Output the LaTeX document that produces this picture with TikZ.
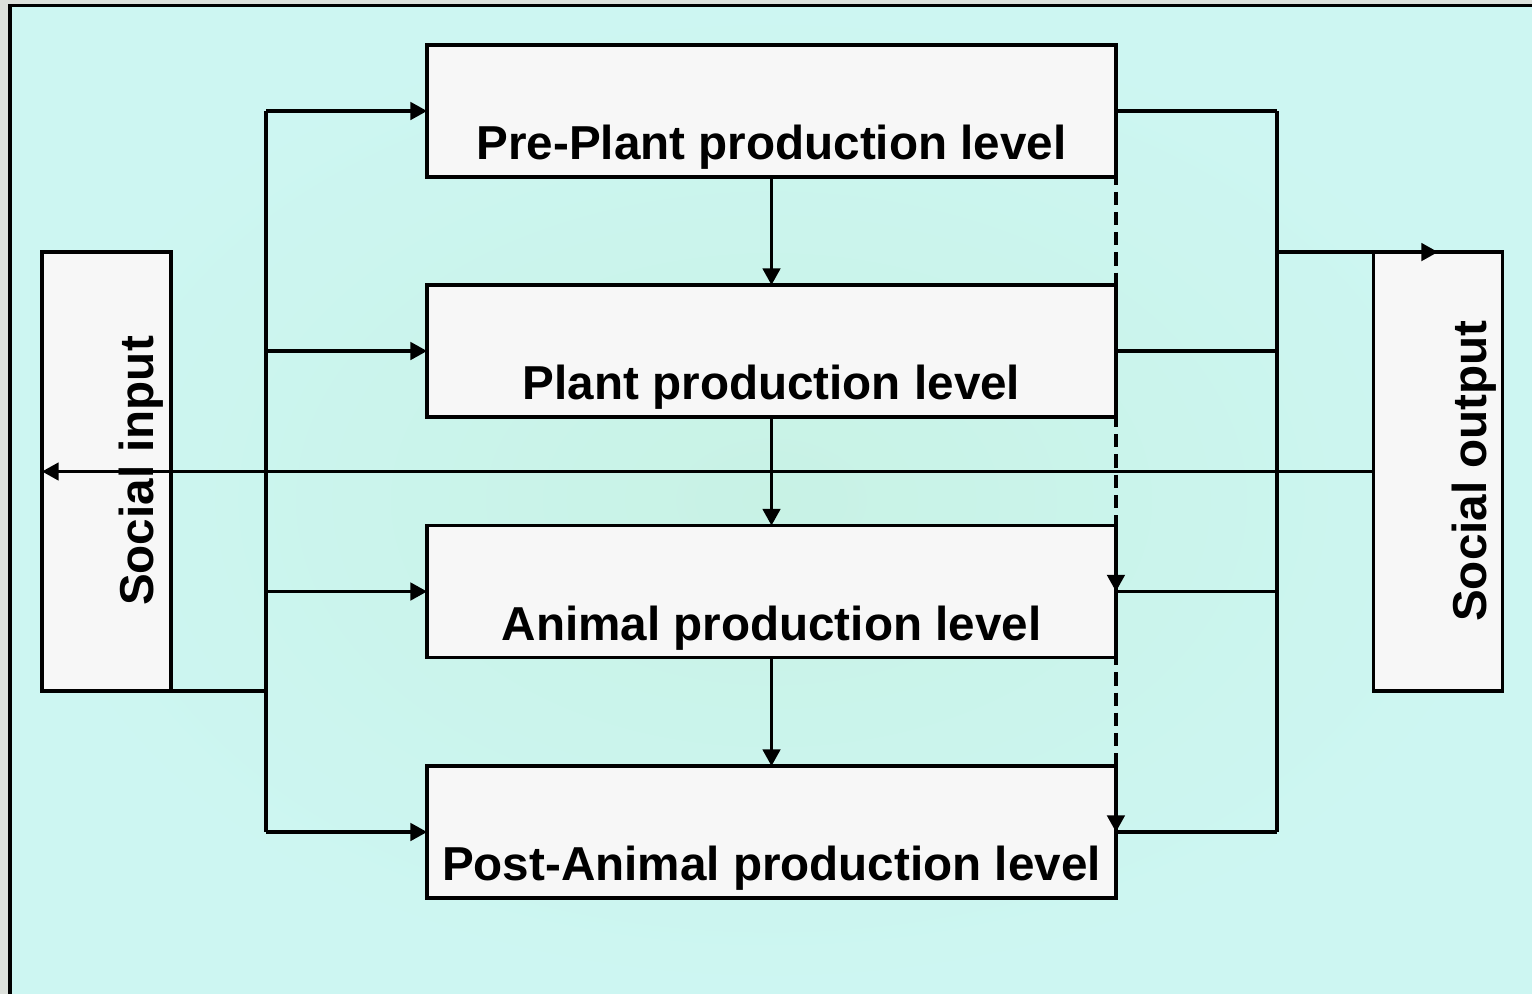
\documentclass[tikz,border=0pt]{standalone}
\usepackage{fontspec}
\setmainfont{Liberation Sans}
\usetikzlibrary{arrows.meta}
\definecolor{edgegray}{HTML}{DCE0DB}
\definecolor{bgout}{HTML}{CDF6F2}
\definecolor{bgin}{HTML}{C8F2E5}
\definecolor{boxfill}{HTML}{F7F7F7}
\begin{document}
\begin{tikzpicture}[x=0.02cm,y=-0.02cm,
  levelbox/.style={draw=black,line width=1.8pt,fill=boxfill,minimum width=13.78cm,minimum height=2.64cm,inner sep=0pt,outer sep=0pt},
  sidebox/.style={draw=black,line width=1.8pt,fill=boxfill,minimum width=2.58cm,minimum height=8.78cm,inner sep=0pt,outer sep=0pt},
  lvltext/.style={font=\fontsize{27.1}{32}\selectfont\bfseries,anchor=base,inner sep=0pt},
  sidetext/.style={font=\fontsize{27.1}{32}\selectfont\bfseries,anchor=base,inner sep=0pt,rotate=90},
  conn/.style={line width=1.8pt,draw=black},
  arr/.style={conn,-{Triangle[length=9.5pt,width=10pt]}},
  dsh/.style={dash pattern=on 7.5pt off 4pt}]
\useasboundingbox (0,0) rectangle (1532,994);
% background
\fill[edgegray] (0,0) rectangle (1532,994);
\shade[inner color=bgin,outer color=bgout] (10,5.5) rectangle (1532,994);
\draw[line width=1.9pt] (10,994) -- (10,5.5) -- (1532,5.5);
% boxes
\node[levelbox] (pre)   at (771.5,111) {};
\node[levelbox] (plant) at (771.5,351) {};
\node[levelbox] (anim)  at (771.5,591.5) {};
\node[levelbox] (post)  at (771.5,832) {};
\node[sidebox] (si) at (106.5,471.5) {};
\node[sidebox] (so) at (1438,471.5) {};
% texts
\node[lvltext] (tpre)   at (771.5,159) {Pre-Plant production level};
\node[lvltext] (tplant) at (771.5,399) {Plant production level};
\node[lvltext] (tanim)  at (771.5,640) {Animal production level};
\node[lvltext] (tpost)  at (771.5,880) {Post-Animal production level};
\node[sidetext] (tsi) at (153,471) {Social input};
\node[sidetext] (tso) at (1486,471) {Social output};
% vertical arrows
\draw[arr] (pre.south) -- (plant.north);
\draw[arr] (plant.south) -- (anim.north);
\draw[arr] (anim.south) -- (post.north);
% left bus
\path (si.south) ++(159.5,0) coordinate (L);
\draw[conn] (si.south) -- (L);
\draw[conn] (L |- pre.west) -- (L |- post.west);
\draw[arr] (L |- pre.west) -- (pre.west);
\draw[arr] (L |- plant.west) -- (plant.west);
\draw[arr] (L |- anim.west) -- (anim.west);
\draw[arr] (L |- post.west) -- (post.west);
% right bus
\path (so.north) ++(-161,0) coordinate (R);
\draw[conn] (R |- pre.east) -- (R |- post.east);
\draw[conn] (pre.east) -- (R |- pre.east);
\draw[conn] (plant.east) -- (R |- plant.east);
\draw[conn] (anim.east) -- (R |- anim.east);
\draw[conn] (post.east) -- (R |- post.east);
\draw[arr] (R) -- (so.north);
% feedback
\draw[arr] (so.west) -- (si.west);
% dashed
\draw[arr,dsh] (pre.east) -- (anim.east);
\draw[arr,dsh] (anim.east) -- (post.east);
\end{tikzpicture}
\end{document}
